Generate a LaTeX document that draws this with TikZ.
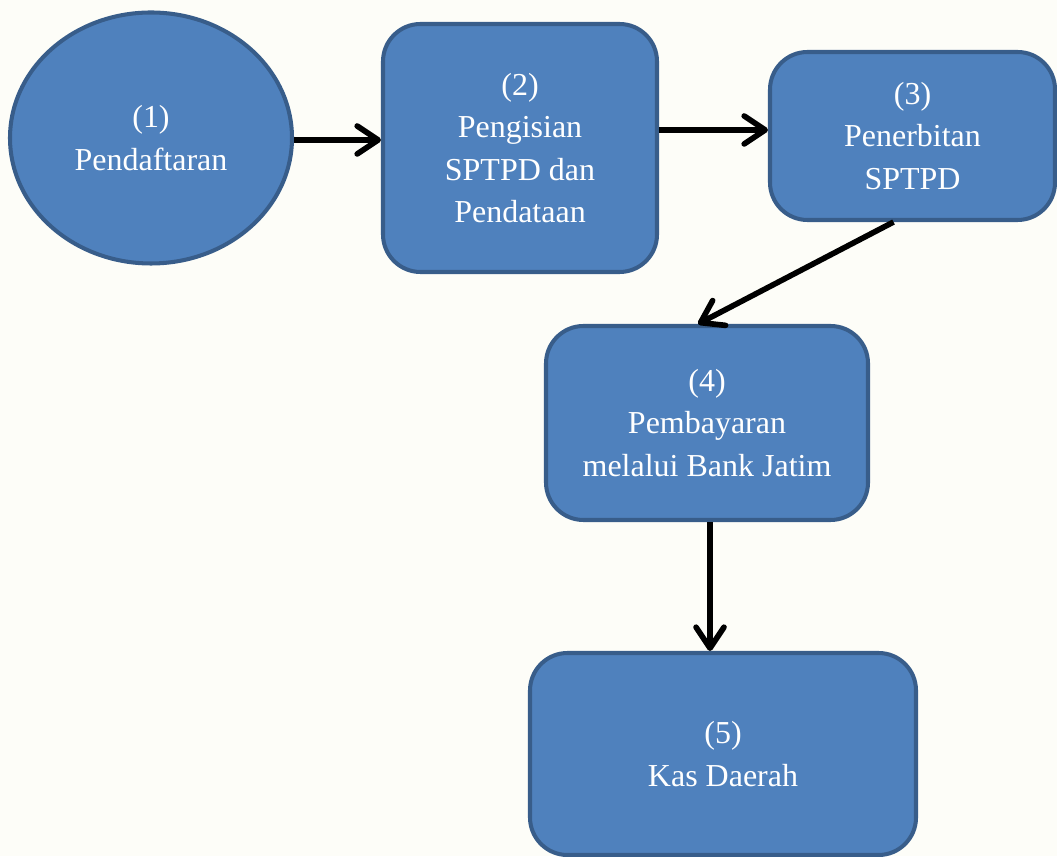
\documentclass[tikz,border=0pt]{standalone}
\usepackage{fontspec}
\setmainfont{Liberation Serif}
\newfontfamily\stepfont{Liberation Serif}
\usetikzlibrary{arrows.meta,shapes.geometric}
\definecolor{boxfill}{HTML}{4F81BD}
\definecolor{boxline}{HTML}{385D8A}
\definecolor{paper}{HTML}{FDFDF8}

\begin{document}
\begin{tikzpicture}[
	step box/.style={draw=boxline, line width=2.3pt, fill=boxfill, rounded corners=0.75cm,
		text=white, align=center, font=\stepfont\fontsize{18.2}{24}\selectfont, inner sep=0pt},
	step oval/.style={ellipse, draw=boxline, line width=2.3pt, fill=boxfill,
		text=white, align=center, font=\stepfont\fontsize{18.2}{24}\selectfont, inner sep=0pt},
	arr/.style={line width=3.2pt, -{Straight Barb[length=0.42cm, width=0.56cm, line cap=round, line join=round]}}
]
			%%%%% START %%%%%
			
			\fill[paper] (0, 0) rectangle (21.14, 17.12);
			\useasboundingbox (0, 0) rectangle (21.14, 17.12);
			
			\node[step oval, minimum width=5.64cm, minimum height=5.02cm] (e1) at (3.02, 14.36) {(1)\\Pendaftaran};
			\node[step box, minimum width=5.48cm, minimum height=4.96cm] (b2) at (10.4, 14.16) {(2)\\Pengisian\\SPTPD dan\\Pendataan};
			\node[step box, minimum width=5.7cm, minimum height=3.36cm] (b3) at (18.25, 14.4) {(3)\\Penerbitan\\SPTPD};
			\node[step box, minimum width=6.44cm, minimum height=3.88cm] (b4) at (14.14, 8.66) {(4)\\Pembayaran\\melalui Bank Jatim};
			\node[step box, minimum width=7.72cm, minimum height=4.04cm] (b5) at (14.46, 2.04) {(5)\\Kas Daerah};
			
			\draw[arr] ([yshift=-0.04cm]e1.east) -- ([yshift=0.16cm]b2.west);
			\draw[arr] ([yshift=0.36cm]b2.east) -- ([yshift=0.12cm]b3.west);
			\draw[arr] ([xshift=-0.38cm]b3.south) -- ([xshift=-0.18cm]b4.north);
			\draw[arr] ([xshift=0.06cm]b4.south) -- ([xshift=-0.26cm]b5.north);
			
			%%%%% END %%%%%
\end{tikzpicture}
\end{document}
